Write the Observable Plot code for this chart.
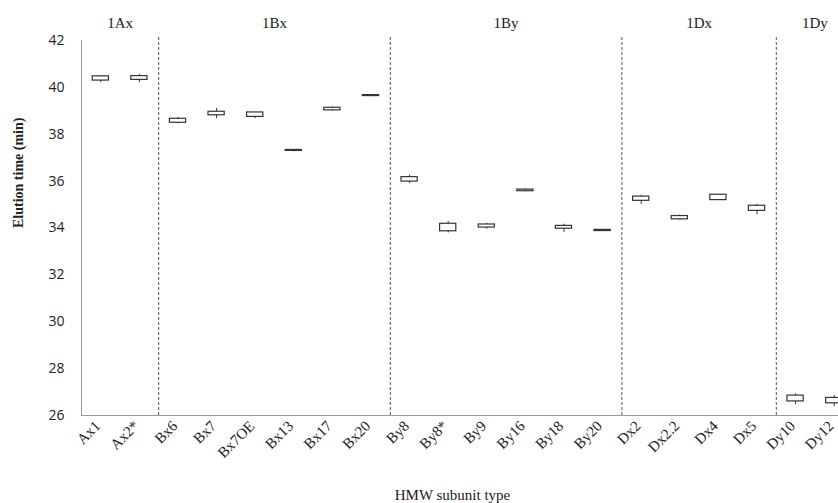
<!DOCTYPE html>
<html>
<head>
<meta charset="utf-8">
<script src="https://cdn.jsdelivr.net/npm/d3@7"></script>
<script src="https://cdn.jsdelivr.net/npm/@observablehq/plot@0.6"></script>
<style>
html, body { margin: 0; padding: 0; background: #fff; overflow: hidden; }
#wrap { width: 838px; height: 503px; overflow: hidden; }
#wrap svg { max-width: none !important; width: 853px !important; height: 503px !important; }
</style>
</head>
<body>
<div id="wrap"></div>
<script>
const categories = ["Ax1","Ax2*","Bx6","Bx7","Bx7OE","Bx13","Bx17","Bx20","By8","By8*","By9","By16","By18","By20","Dx2","Dx2.2","Dx4","Dx5","Dy10","Dy12"];
const groups = ["1Ax","1Bx","1By","1Dx","1Dy"];
const groupSizes = [2, 6, 6, 4, 2];
const lows  = [40.20,40.20,38.44,38.67,38.67,37.25,38.99,39.60,35.90,33.79,33.95,35.55,33.81,33.86,35.01,34.33,35.19,34.56,26.47,26.38];
const q1s   = [40.29,40.32,38.49,38.81,38.74,37.29,39.02,39.63,35.98,33.86,34.02,35.57,33.97,33.87,35.16,34.37,35.19,34.73,26.60,26.52];
const q3s   = [40.47,40.48,38.66,38.96,38.93,37.33,39.13,39.67,36.17,34.18,34.15,35.64,34.09,33.92,35.34,34.51,35.42,34.95,26.85,26.75];
const highs = [40.50,40.55,38.72,39.10,38.93,37.33,39.16,39.67,36.25,34.28,34.20,35.67,34.16,33.93,35.40,34.56,35.42,35.01,26.93,26.85];
const yTicks = [26,28,30,32,34,36,38,40,42];
const yLabel = "Elution time (min)";
const xLabel = "HMW subunit type";

const rows = categories.map((c, i) => ({i, c, low: lows[i], q1: q1s[i], q3: q3s[i], high: highs[i]}));
let start = 0;
const groupRows = groups.map((g, k) => {
  const r = {g, start, end: start + groupSizes[k] - 1};
  start += groupSizes[k];
  return r;
});
const dividers = groupRows.slice(1).map(r => r.start - 0.5);

const serif = "Liberation Serif, Times New Roman, serif";
const half = 0.21;

const chart = Plot.plot({
  width: 853,
  height: 503,
  marginLeft: 81,
  marginRight: 0,
  marginTop: 40,
  marginBottom: 88,
  x: {type: "linear", domain: [-0.5, categories.length - 0.5]},
  y: {domain: [26, 42]},
  marks: [
    Plot.ruleX(dividers, {stroke: "#555", strokeWidth: 1, strokeDasharray: "3,2", insetTop: -3}),
    Plot.ruleX([-0.5], {y1: 26, y2: 42, stroke: "#999"}),
    Plot.ruleY([26], {stroke: "#999"}),
    Plot.ruleX(rows, {x: "i", y1: "low", y2: "high", stroke: "#333", strokeWidth: 1}),
    Plot.rect(rows, {x1: d => d.i - half, x2: d => d.i + half, y1: "q1", y2: "q3", fill: "white", stroke: "#333", strokeWidth: 1.2}),
    Plot.axisY({ticks: yTicks, tickSize: 0, tickPadding: 17, fontSize: 14, fontFamily: "Open Sans, sans-serif", fill: "#222", label: null}),
    Plot.axisX({ticks: categories.map((c, i) => i), tickFormat: i => categories[i], tickSize: 0, tickRotate: -45, tickPadding: 8, dx: -3, fontSize: 15, fontFamily: serif, fill: "#222", label: null}),
    Plot.text(groupRows, {x: d => (d.start + d.end) / 2, text: "g", frameAnchor: "top", lineAnchor: "bottom", dy: -13, fontSize: 15, fontFamily: serif, fill: "#222"}),
    Plot.text([yLabel], {text: d => d, frameAnchor: "left", rotate: -90, dx: -63, fontSize: 14, fontWeight: "bold", fontFamily: serif, fill: "#222"}),
    Plot.text([xLabel], {text: d => d, frameAnchor: "bottom", lineAnchor: "bottom", dy: 84, dx: -15, fontSize: 15, fontFamily: serif, fill: "#222"})
  ]
});
document.getElementById("wrap").appendChild(chart);
</script>
</body>
</html>
